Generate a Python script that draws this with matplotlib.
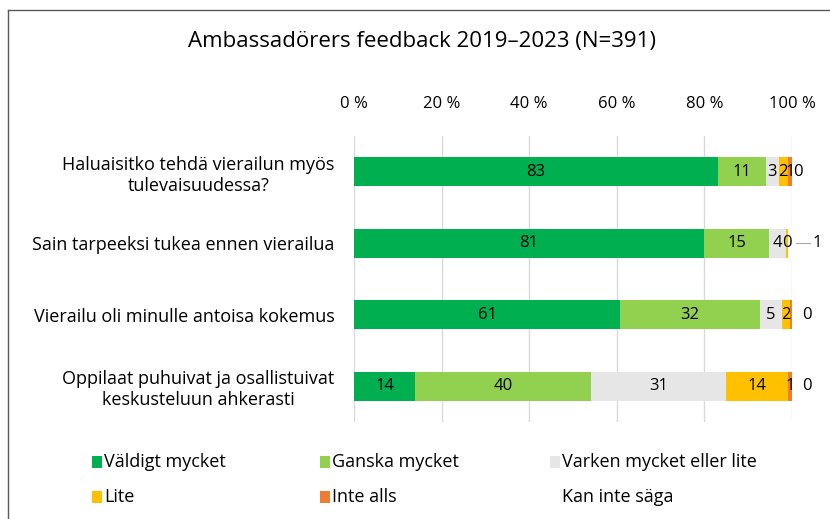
import matplotlib.pyplot as plt
import numpy as np
from matplotlib.patches import Rectangle

plt.rcParams['font.family'] = ['Open Sans', 'DejaVu Sans']

# survey data (percent of answers)
questions = ["Haluaisitko tehdä vierailun myös\ntulevaisuudessa?",
             "Sain tarpeeksi tukea ennen vierailua",
             "Vierailu oli minulle antoisa kokemus",
             "Oppilaat puhuivat ja osallistuivat\nkeskusteluun ahkerasti"]
valdigt = [83, 81, 61, 14]
ganska = [11, 15, 32, 40]
varken = [3, 4, 5, 31]
lite = [2, 0.3, 2, 14]
inte_alls = [1, 0, 0.4, 1]
kan_inte = [0, 1, 0, 0]

answers = ["Väldigt mycket", "Ganska mycket", "Varken mycket eller lite",
           "Lite", "Inte alls", "Kan inte säga"]
colors = ["#00b050", "#92d050", "#e7e6e6", "#ffc000", "#ed7d31", "#ffffff"]

series = [valdigt, ganska, varken, lite, inte_alls, kan_inte]
data = np.array(series, dtype=float)
pct = data / data.sum(axis=0) * 100

W, H = 830, 519
fig = plt.figure(figsize=(W / 100, H / 100), dpi=100)
ax = fig.add_axes([354 / W, 1 - 422 / H, 438 / W, 286 / H])

y = np.arange(len(questions))
left = np.zeros(len(questions))
for k in range(len(series)):
    ax.barh(y, pct[k], left=left, height=0.40, color=colors[k], zorder=2)
    for i in range(len(questions)):
        v = data[k, i]
        cx = left[i] + pct[k, i] / 2
        lab = "%d" % round(v)
        if k < 4 and (v >= 1 or k == 3 and v > 0):
            ax.text(cx, y[i], lab, ha='center', va='center', fontsize=12, zorder=3)
        elif k == 4 and v >= 1:
            ax.text(cx, y[i], lab, ha='center', va='center', fontsize=12, zorder=3)
    left += pct[k]

# labels of the last (white) series sit outside the bars
kis_x = [101.4, 105.8, 103.4, 103.4]
for i in range(len(questions)):
    ax.text(kis_x[i], y[i], "%d" % kan_inte[i], ha='center', va='center', fontsize=12)
ax.plot([100.9, 104.2], [1, 1], color='#a6a6a6', lw=0.8, clip_on=False)

ax.set_xlim(0, 100)
ax.set_ylim(3.5, -0.5)
ax.set_xticks(np.arange(0, 101, 20))
ax.set_xticklabels(["%d %%" % t for t in range(0, 101, 20)])
ax.xaxis.tick_top()
ax.set_yticks(y)
ax.set_yticklabels(questions, multialignment='center')
ax.tick_params(axis='x', length=0, labelsize=12, pad=17)
ax.tick_params(axis='y', length=0, labelsize=13, pad=14)
ax.grid(axis='x', color='#d9d9d9', lw=1, zorder=0)
for s in ax.spines.values():
    s.set_visible(False)

fig.text(0.508, 1 - 42 / H, "Ambassadörers feedback 2019–2023 (N=391)", ha='center',
         va='center', fontsize=16)

# legend laid out row by row, like the original
col_x = [92, 320, 550]
row_y = [462, 497]
for n, (name, c) in enumerate(zip(answers, colors)):
    px = col_x[n % 3]
    py = row_y[n // 3]
    fig.add_artist(Rectangle((px / W, 1 - (py + 6) / H), 10 / W, 12 / H,
                             transform=fig.transFigure, facecolor=c, edgecolor='none'))
    fig.text((px + 12) / W, 1 - py / H, name, ha='left', va='center', fontsize=13)

# chart-area frame, only left and top edges are visible in the picture
fig.add_artist(plt.Line2D([8 / W, 8 / W], [0, 1 - 10 / H], color='#595959', lw=1))
fig.add_artist(plt.Line2D([8 / W, 1], [1 - 10 / H, 1 - 10 / H], color='#595959', lw=1))

fig.savefig("out.png", dpi=100)
